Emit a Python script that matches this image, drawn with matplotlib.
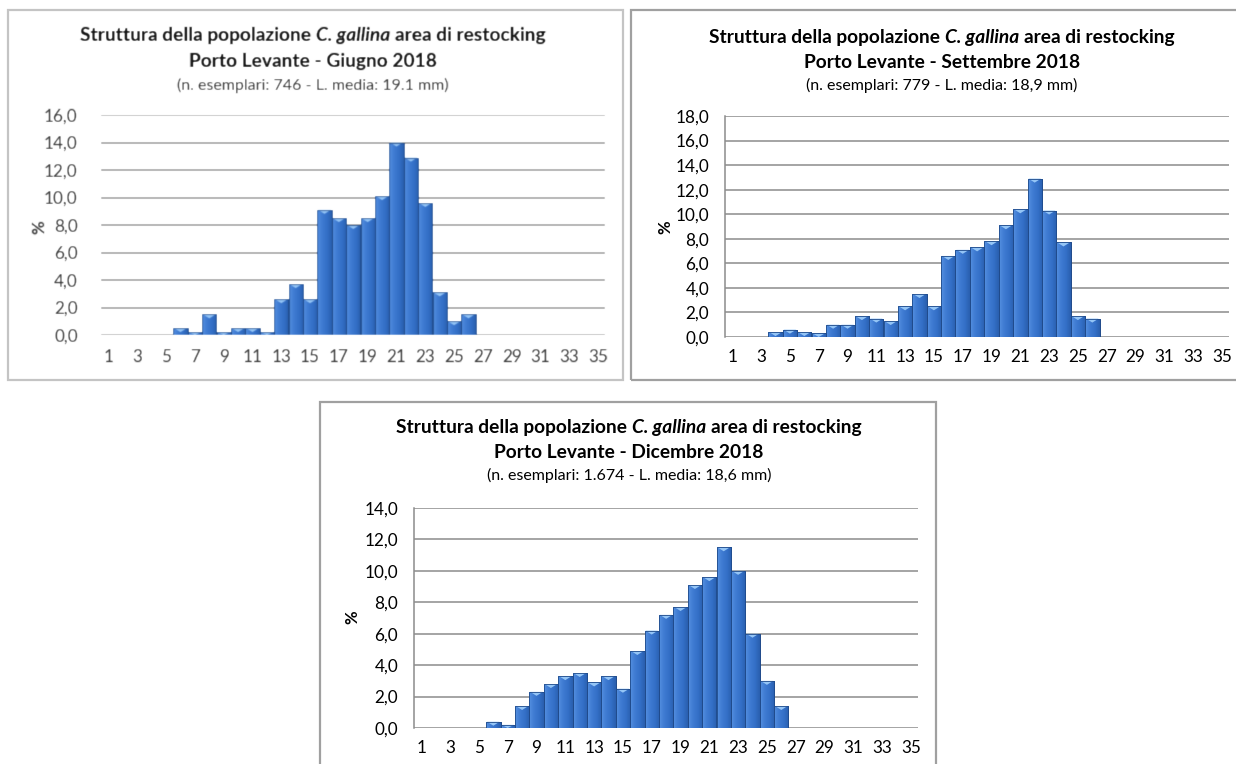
import numpy as np
import matplotlib
matplotlib.use("Agg")
import matplotlib.pyplot as plt
from matplotlib.colors import LinearSegmentedColormap
from matplotlib.patches import Rectangle, Polygon

# Size classes (mm) and the labels shown on the x axis
classes = list(range(1, 36))
x_tick_labels = [str(c) for c in range(1, 36, 2)]

# Percentage of specimens per size class
giugno = [0, 0, 0, 0, 0, 0.5, 0.2, 1.5, 0.2, 0.5, 0.5, 0.2, 2.6, 3.7, 2.6, 9.1, 8.5, 8.0,
          8.5, 10.1, 14.0, 12.9, 9.6, 3.1, 1.0, 1.5, 0, 0, 0, 0, 0, 0, 0, 0, 0]
settembre = [0, 0, 0, 0.4, 0.6, 0.4, 0.3, 1.0, 1.0, 1.7, 1.5, 1.3, 2.5, 3.5, 2.5, 6.6, 7.1, 7.3,
             7.8, 9.1, 10.4, 12.9, 10.3, 7.7, 1.7, 1.5, 0, 0, 0, 0, 0, 0, 0, 0, 0]
dicembre = [0, 0, 0, 0, 0, 0.4, 0.2, 1.4, 2.3, 2.8, 3.3, 3.5, 2.9, 3.3, 2.5, 4.9, 6.2, 7.2,
            7.7, 9.1, 9.6, 11.5, 10.0, 6.0, 3.0, 1.4, 0, 0, 0, 0, 0, 0, 0, 0, 0]

y_max = [16, 18, 14]
title_head = "Struttura della popolazione"
title_species = "C. gallina"
title_tail = "area di restocking"
title_dates = ["Porto Levante - Giugno 2018", "Porto Levante - Settembre 2018",
               "Porto Levante - Dicembre 2018"]
subtitles = ["(n. esemplari: 746 - L. media: 19.1 mm)",
             "(n. esemplari: 779 - L. media: 18,9 mm)",
             "(n. esemplari: 1.674 - L. media: 18,6 mm)"]
y_label = "%"

FONT = "Lato"
TITLE_SIZE = 13.8
SUB_SIZE = 11.5
TICK_SIZE = 12.3
W, H = 1236, 764
fig = plt.figure(figsize=(W / 100, H / 100), dpi=100)
fig.patch.set_facecolor("white")
renderer = fig.canvas.get_renderer()

bar_cmap = LinearSegmentedColormap.from_list(
    "bevel", ["#5590e0", "#3f7bd2", "#3470c8", "#2a5fae"])


def soften(im, dpi, sigma=0.6):
    pad = 3
    a = np.pad(im, ((pad, pad), (pad, pad), (0, 0)))
    r = np.arange(-pad, pad + 1)
    k = np.exp(-0.5 * (r / sigma) ** 2)
    k /= k.sum()
    tmp = np.zeros_like(a)
    for w, s in zip(k, r):
        tmp += w * np.roll(a, s, axis=0)
    out = np.zeros_like(a)
    for w, s in zip(k, r):
        out += w * np.roll(tmp, s, axis=1)
    return out, -pad, -pad


def fx(px):
    return px / W


def fy(py):
    return 1 - py / H


def title_line(cx, cy, parts, size, color, filt):
    """Draw a centred line made of (text, italic) pieces."""
    probe_a = fig.text(0, 0, "aa", fontsize=size, fontweight="bold", family=FONT)
    probe_b = fig.text(0, 0, "a a", fontsize=size, fontweight="bold", family=FONT)
    space = (probe_b.get_window_extent(renderer).width
             - probe_a.get_window_extent(renderer).width)
    probe_a.remove()
    probe_b.remove()
    items = []
    for s, italic in parts:
        t = fig.text(0, fy(cy), s, fontsize=size, fontweight="bold",
                     fontstyle="italic" if italic else "normal", family=FONT,
                     color=color, ha="left", va="center")
        if filt:
            t.set_agg_filter(soften)
        items.append((t, t.get_window_extent(renderer).width))
    total = sum(w for _, w in items) + space * (len(items) - 1)
    x = cx - total / 2
    for t, w in items:
        t.set_x(fx(x))
        x += w + space


def histogram(values, ymax, plot_box, frame_box, soft=False):
    left, top, right, bottom = plot_box
    ax = fig.add_axes([fx(left), fy(bottom), fx(right - left), (bottom - top) / H])
    text_color = "#333333" if soft else "black"
    grid_color = "#808080" if soft else "#8c8c8c"

    xs = np.array(classes, dtype=float)
    vals = np.array(values, dtype=float)
    keep = vals > 0
    bars = ax.bar(xs[keep], vals[keep], width=1.0, color="#3470c8",
                  edgecolor="#1f4a8a", linewidth=0.6, zorder=3)
    px_per_unit = (bottom - top) / ymax
    chevron = 4.0 / px_per_unit
    grad = np.linspace(0, 1, 64).reshape(1, -1)
    for b in bars:
        x0, w, h = b.get_x(), b.get_width(), b.get_height()
        im = ax.imshow(grad, cmap=bar_cmap, extent=[x0, x0 + w, 0, h],
                       aspect="auto", zorder=3.5, interpolation="bilinear")
        im.set_clip_path(b)
        d = min(chevron, h)
        ax.add_patch(Polygon([[x0 + 0.06, h], [x0 + w - 0.06, h], [x0 + w / 2, h - d]],
                             closed=True, facecolor="#94c5f6", edgecolor="none",
                             zorder=4))
        ax.add_patch(Rectangle((x0, 0), w, h, facecolor="none", edgecolor="#1f4a8a",
                               linewidth=0.6, zorder=4.5))

    ax.set_xlim(0.5, 35.5)
    ax.set_ylim(0, ymax)
    ax.set_xticks(range(1, 36, 2))
    ax.set_xticklabels(x_tick_labels)
    yt = np.arange(0, ymax + 0.1, 2)
    ax.set_yticks(yt)
    ax.set_yticklabels([f"{v:.1f}".replace(".", ",") for v in yt])
    ax.tick_params(length=0, labelsize=TICK_SIZE, labelcolor=text_color)
    ax.tick_params(axis="y", pad=17 if soft else 11.5)
    ax.tick_params(axis="x", pad=10 if soft else 8.5)
    for lab in ax.get_xticklabels() + ax.get_yticklabels():
        lab.set_family(FONT)
    ax.grid(axis="y", color=grid_color, linewidth=1.1, zorder=0)
    ax.set_axisbelow(True)
    for side in ("top", "right", "bottom"):
        ax.spines[side].set_visible(False)
    if soft:
        ax.spines["left"].set_visible(False)
        ax.set_agg_filter(soften)
    else:
        ax.spines["left"].set_color(grid_color)
        ax.spines["left"].set_linewidth(1.1)
    ax.set_facecolor("none")

    fl, ft, fr, fb = frame_box
    fig.add_artist(Rectangle((fx(fl), fy(fb)), fx(fr - fl), (fb - ft) / H,
                             transform=fig.transFigure, fill=False,
                             edgecolor="#c4c4c4" if soft else "#a0a0a0",
                             linewidth=1.6, zorder=0))

    tcol = "#111111" if soft else "black"
    return ax, tcol, text_color


charts = [
    (giugno, y_max[0], (101.3, 115, 605.3, 335), (8, 10, 623, 380), 313,
     (35, 61, 85), (39.5, 227), True),
    (settembre, y_max[1], (725.1, 116, 1229.1, 337), (631, 10, 1242, 380), 942,
     (37, 62, 85), (665, 227), False),
    (dicembre, y_max[2], (414.1, 508, 918.1, 728), (320, 402, 936, 772), 629,
     (428, 453, 475), (352.5, 617), False),
]

for i, (vals, ymax, pbox, fbox, cx, ys, pct, soft) in enumerate(charts):
    ax, tcol, lcol = histogram(vals, ymax, pbox, fbox, soft)
    title_line(cx, ys[0], [(title_head, False), (title_species, True),
                           (title_tail, False)], TITLE_SIZE, tcol, soft)
    t2 = fig.text(fx(cx), fy(ys[1]), title_dates[i], fontsize=TITLE_SIZE,
                  fontweight="bold", family=FONT, color=tcol, ha="center", va="center")
    t3 = fig.text(fx(cx), fy(ys[2]), subtitles[i], fontsize=SUB_SIZE, family=FONT,
                  color=lcol, ha="center", va="center")
    t4 = fig.text(fx(pct[0]), fy(pct[1]), y_label, fontsize=12, fontweight="bold",
                  family=FONT, color=lcol, rotation=90, ha="center", va="center")
    if soft:
        for t in (t2, t3, t4):
            t.set_agg_filter(soften)

fig.savefig("out.png", dpi=100, facecolor="white")
